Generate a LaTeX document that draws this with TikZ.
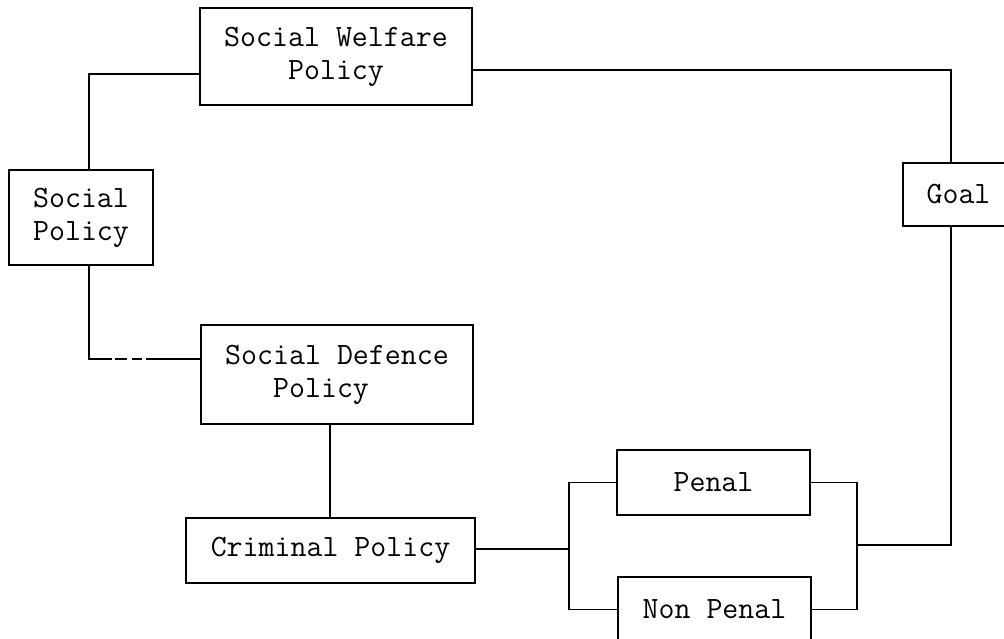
\documentclass[tikz,border=0pt]{standalone}
\usepackage{fontspec}
\begin{document}
\begin{tikzpicture}[x=1pt,y=-1pt,line width=1.4pt,
  box/.style={draw,rectangle,inner sep=0pt,align=center,font=\ttfamily\fontsize{31}{33}\selectfont}]
\useasboundingbox (0,0) rectangle (1004,639);
\clip (0,0) rectangle (1004,639);
% boxes
\node[box,minimum width=272pt,minimum height=97pt] (swp) at (336,56.5) {Social Welfare\\Policy};
\node[box,minimum width=144pt,minimum height=95pt] (sp) at (81,217.5) {Social\\Policy};
\node[box,minimum width=272pt,minimum height=99pt,align=left] (sdp) at (337,374.5) {Social Defence\\\hphantom{abc}Policy};
\node[box,minimum width=289pt,minimum height=65pt] (cp) at (330.5,550.5) {Criminal Policy};
\node[box,minimum width=193pt,minimum height=65pt] (pen) at (713.5,482.5) {Penal};
\node[box,minimum width=193pt,minimum height=65pt] (np) at (714.5,609.5) {Non Penal};
\node[box,minimum width=111pt,minimum height=63pt] (goal) at (958.5,194.5) {Goal};
% joints
\coordinate (j1) at (89,74);
\coordinate (d0) at (89,359);
\coordinate (d1) at (112,359);
\coordinate (e1) at (115,359);
\coordinate (e2) at (127,359);
\coordinate (e3) at (132,359);
\coordinate (e4) at (142,359);
\coordinate (d2) at (146,359);
\coordinate (j3) at (330,0);
\coordinate (L) at (569,549);
\coordinate (R) at (857,545);
\coordinate (G) at (951,545);
\coordinate (T) at (951,70);
% connectors
\draw (sp.south -| d0) -- (d0) -- (d1);
\draw (e1) -- (e2) (e3) -- (e4);
\draw (d2) -- (sdp.west |- d2);
\draw (sp.north -| j1) |- (swp.west |- j1);
\draw (sdp.south -| j3) -- (cp.north -| j3);
\draw (cp.east |- L) -- (L);
\draw (pen.west) -| (L) |- (np.west);
\draw (pen.east) -| (R) |- (np.east);
\draw (R) -- (G) -- (goal.south -| G);
\draw (swp.east |- T) -- (T) -- (goal.north -| T);
\end{tikzpicture}
\end{document}
